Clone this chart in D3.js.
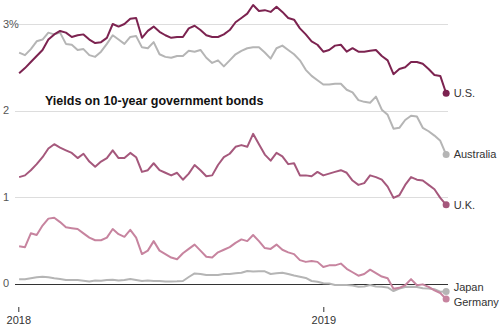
<!DOCTYPE html>
<html>
<head>
<meta charset="utf-8">
<script src="https://cdn.jsdelivr.net/npm/d3@7"></script>
<style>
  body { margin: 0; background: #fff; }
  text { font-family: "Liberation Sans", Arial, sans-serif; }
</style>
</head>
<body>
<div id="chart"></div>
<script>
let width = 499, // chart width
    height = 332; // chart height

// weekly readings, first Tuesday of 2018 to end of May 2019
const dates = d3.utcTuesday.range(new Date("2018-01-02"), new Date("2019-05-29"));

const names = ["Japan", "Australia", "Germany", "U.K.", "U.S."];

const us = [2.43, 2.49, 2.56, 2.63, 2.70, 2.82, 2.88, 2.92, 2.90, 2.85,
  2.87, 2.88, 2.82, 2.78, 2.79, 2.84, 3.00, 2.97, 3.00, 3.06,
  3.07, 2.84, 2.92, 2.97, 2.91, 2.87, 2.84, 2.85, 2.85, 2.95,
  2.98, 2.93, 2.87, 2.85, 2.85, 2.88, 2.93, 3.02, 3.07, 3.12,
  3.22, 3.15, 3.16, 3.14, 3.20, 3.14, 3.07, 3.05, 2.95, 2.88,
  2.80, 2.76, 2.68, 2.70, 2.75, 2.76, 2.68, 2.72, 2.68, 2.68,
  2.69, 2.70, 2.63, 2.58, 2.42, 2.48, 2.50, 2.56, 2.56, 2.54,
  2.48, 2.41, 2.40, 2.20];

const australia = [2.67, 2.64, 2.71, 2.80, 2.82, 2.90, 2.88, 2.90, 2.77, 2.76,
  2.70, 2.71, 2.64, 2.62, 2.68, 2.77, 2.87, 2.82, 2.77, 2.85,
  2.86, 2.73, 2.72, 2.79, 2.65, 2.62, 2.61, 2.63, 2.63, 2.69,
  2.68, 2.70, 2.61, 2.55, 2.58, 2.51, 2.58, 2.65, 2.69, 2.72,
  2.73, 2.73, 2.67, 2.60, 2.72, 2.75, 2.70, 2.65, 2.58, 2.47,
  2.40, 2.35, 2.30, 2.30, 2.31, 2.31, 2.24, 2.21, 2.12, 2.10,
  2.09, 2.16, 2.01, 1.95, 1.79, 1.80, 1.89, 1.94, 1.93, 1.80,
  1.76, 1.71, 1.65, 1.49];

const uk = [1.23, 1.25, 1.31, 1.38, 1.46, 1.56, 1.61, 1.57, 1.54, 1.51,
  1.45, 1.50, 1.41, 1.35, 1.41, 1.45, 1.54, 1.45, 1.45, 1.51,
  1.46, 1.29, 1.31, 1.39, 1.31, 1.28, 1.25, 1.28, 1.20, 1.27,
  1.37, 1.31, 1.24, 1.25, 1.37, 1.46, 1.50, 1.58, 1.60, 1.58,
  1.73, 1.61, 1.49, 1.42, 1.51, 1.47, 1.38, 1.39, 1.25, 1.25,
  1.24, 1.29, 1.25, 1.27, 1.29, 1.31, 1.28, 1.19, 1.14, 1.16,
  1.25, 1.23, 1.20, 1.12, 0.99, 1.02, 1.14, 1.23, 1.20, 1.19,
  1.14, 1.09, 0.99, 0.91];

const germany = [0.43, 0.42, 0.58, 0.56, 0.67, 0.75, 0.76, 0.71, 0.65, 0.64,
  0.63, 0.58, 0.53, 0.50, 0.50, 0.53, 0.63, 0.57, 0.54, 0.62,
  0.53, 0.34, 0.38, 0.49, 0.38, 0.34, 0.30, 0.28, 0.35, 0.40,
  0.45, 0.38, 0.31, 0.30, 0.36, 0.39, 0.42, 0.47, 0.51, 0.49,
  0.56, 0.49, 0.41, 0.40, 0.45, 0.39, 0.36, 0.34, 0.27, 0.25,
  0.26, 0.25, 0.19, 0.21, 0.21, 0.23, 0.17, 0.13, 0.09, 0.11,
  0.16, 0.12, 0.08, 0.06, -0.06, -0.05, -0.02, 0.05, -0.02, -0.01,
  -0.04, -0.08, -0.11, -0.18];

const japan = [0.049, 0.049, 0.060, 0.072, 0.079, 0.072, 0.060, 0.052, 0.040, 0.040,
  0.040, 0.032, 0.023, 0.035, 0.032, 0.040, 0.044, 0.035, 0.040, 0.052,
  0.040, 0.029, 0.035, 0.029, 0.029, 0.023, 0.023, 0.025, 0.029, 0.075,
  0.116, 0.110, 0.098, 0.098, 0.098, 0.110, 0.110, 0.118, 0.125, 0.145,
  0.139, 0.141, 0.141, 0.110, 0.118, 0.125, 0.110, 0.092, 0.079, 0.064,
  0.029, 0.021, 0.002, 0.000, -0.017, -0.017, -0.017, -0.023, -0.037, -0.035,
  -0.017, -0.035, -0.037, -0.046, -0.087, -0.058, -0.040, -0.037, -0.040, -0.055,
  -0.058, -0.067, -0.095, -0.092];

const yTicks = [0, 1, 2, 3],
      yTickLabels = ["0", "1", "2", "3%"];

const xTicks = ["2018-01-01", "2019-01-01"];

const title = "Yields on 10-year government bonds";

// draw order: grey lines go under the coloured ones
const seriesValues = [japan, australia, germany, uk, us];
const colors = ["#b5b5b5", "#b5b5b5", "#c7849f", "#a5587c", "#7c2350"];
const labelNudge = [-4.5, 0, 3.5, 0, 0]; // keep Japan / Germany labels apart

let svg = d3.select('#chart')
  .append('svg')
  .attr('width', width)
  .attr('height', height);

let x = d3.scaleUtc()
  .domain([new Date("2018-01-01"), new Date("2019-01-01")])
  .range([18.3, 323.3]);

let y = d3.scaleLinear()
  .domain([0, 3])
  .range([283.5, 24]);

let gridLeft = 15, gridRight = 448;

// gridlines + y labels
let grid = svg.append('g');
grid.selectAll('line')
  .data(yTicks)
  .enter()
  .append('line')
  .attr('x1', gridLeft)
  .attr('x2', gridRight)
  .attr('y1', d => Math.round(y(d)) + 0.5)
  .attr('y2', d => Math.round(y(d)) + 0.5)
  .attr('stroke', d => d === 0 ? '#333' : '#ddd')
  .attr('stroke-width', d => d === 0 ? 1.2 : 1);

grid.selectAll('text')
  .data(yTicks)
  .enter()
  .append('text')
  .attr('x', 3)
  .attr('y', d => y(d))
  .attr('dy', '0.35em')
  .attr('font-size', 11)
  .attr('fill', '#555')
  .text((d, i) => yTickLabels[i]);

// x axis
let xAxis = d3.axisBottom(x)
  .tickValues(xTicks.map(d => new Date(d)))
  .tickSize(5)
  .tickPadding(4)
  .tickFormat(d3.utcFormat('%Y'));

let gx = svg.append('g')
  .attr('transform', 'translate(0,307)')
  .call(xAxis);
gx.select('.domain').remove();
gx.selectAll('line').attr('stroke', '#333');
gx.selectAll('text')
  .attr('font-size', 11)
  .attr('fill', '#333')
  .style('font-family', '"Liberation Sans", Arial, sans-serif');

// title
svg.append('text')
  .attr('x', 45)
  .attr('y', 104.5)
  .attr('font-size', 12.5)
  .attr('font-weight', 'bold')
  .attr('fill', '#111')
  .text(title);

let line = d3.line()
  .x((d, i) => x(dates[i]))
  .y(d => y(d));

seriesValues.forEach(function(values, k){
  svg.append('path')
    .datum(values)
    .attr('d', line)
    .attr('fill', 'none')
    .attr('stroke', colors[k])
    .attr('stroke-width', 2)
    .attr('stroke-linejoin', 'round');

  let last = values.length - 1;
  let ex = x(dates[last]), ey = y(values[last]);

  svg.append('circle')
    .attr('cx', ex)
    .attr('cy', ey)
    .attr('r', 3.5)
    .attr('fill', colors[k]);

  svg.append('text')
    .attr('x', ex + 7.5)
    .attr('y', ey + labelNudge[k])
    .attr('dy', '0.35em')
    .attr('font-size', 11)
    .attr('fill', '#333')
    .text(names[k]);
});
</script>
</body>
</html>
